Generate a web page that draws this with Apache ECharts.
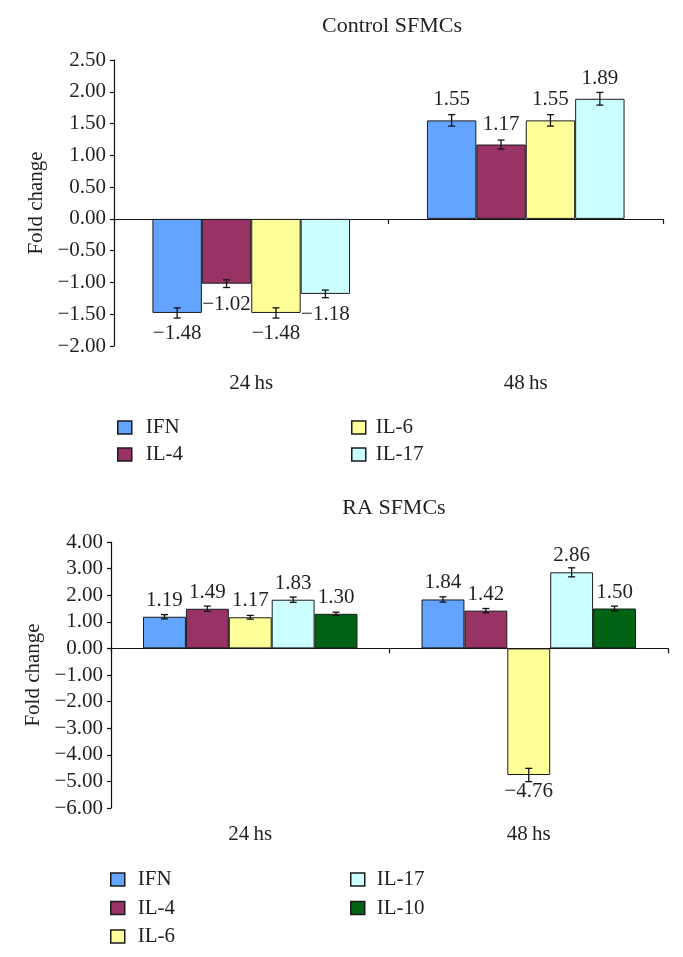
<!DOCTYPE html>
<html>
<head>
<meta charset="utf-8">
<script src="https://cdn.jsdelivr.net/npm/echarts@6/dist/echarts.min.js"></script>
<style>html,body{margin:0;padding:0;background:#fff}#c{width:683px;height:957px}</style>
</head>
<body>
<div id="c"></div>
<script>
// ---- data ----
const categories = ['24\u2009hs', '48\u2009hs'];
const ctrlTitle = 'Control SFMCs';
const raTitle = 'RA SFMCs';
const yName = 'Fold change';
const ctrlSeriesNames = ['IFN', 'IL-4', 'IL-6', 'IL-17'];
const ctrlIFN = [-1.48, 1.55];
const ctrlIL4 = [-1.02, 1.17];
const ctrlIL6 = [-1.48, 1.55];
const ctrlIL17 = [-1.18, 1.89];
const ctrlErrIFN = [0.08, 0.09];
const ctrlErrIL4 = [0.06, 0.07];
const ctrlErrIL6 = [0.08, 0.09];
const ctrlErrIL17 = [0.06, 0.10];
const raSeriesNames = ['IFN', 'IL-4', 'IL-6', 'IL-17', 'IL-10'];
const raIFN = [1.19, 1.84];
const raIL4 = [1.49, 1.42];
const raIL6 = [1.17, -4.76];
const raIL17 = [1.83, 2.86];
const raIL10 = [1.30, 1.50];
const raErrIFN = [0.08, 0.10];
const raErrIL4 = [0.10, 0.08];
const raErrIL6 = [0.07, 0.25];
const raErrIL17 = [0.10, 0.17];
const raErrIL10 = [0.06, 0.09];
const ctrlTicks = {min: -2, max: 2.5, interval: 0.5};
const raTicks = {min: -6, max: 4, interval: 1};

// ---- style ----
const FONT = 'Liberation Serif';
const TXT = '#231f20';
const colors = {'IFN': '#62a4ff', 'IL-4': '#993366', 'IL-6': '#ffff99', 'IL-17': '#ccffff', 'IL-10': '#006414'};
const fmt = v => (v < 0 ? '\u2212' : '') + Math.abs(v).toFixed(2);

const ctrlVals = [ctrlIFN, ctrlIL4, ctrlIL6, ctrlIL17];
const ctrlErrs = [ctrlErrIFN, ctrlErrIL4, ctrlErrIL6, ctrlErrIL17];
const raVals = [raIFN, raIL4, raIL6, raIL17, raIL10];
const raErrs = [raErrIFN, raErrIL4, raErrIL6, raErrIL17, raErrIL10];

const CTRL_GAP = 0.28, RA_GAP = 0.23;

function barSeries(names, vals, gridIdx, gap, dist) {
  return names.map((n, i) => ({
    type: 'bar', name: n, xAxisIndex: gridIdx * 2, yAxisIndex: gridIdx,
    barGap: '0%', barCategoryGap: (gap * 100) + '%',
    itemStyle: {color: colors[n], borderColor: '#1a1a1a', borderWidth: 1},
    label: {show: true, fontFamily: FONT, fontSize: 21, color: TXT, distance: dist,
            formatter: p => fmt(p.value)},
    emphasis: {disabled: true},
    data: vals[i].map(v => ({value: v, label: {position: v < 0 ? 'bottom' : 'top'}}))
  }));
}

function errSeries(vals, errs, gridIdx, gap) {
  const n = vals.length;
  const data = [];
  vals.forEach((arr, si) => arr.forEach((v, ci) => data.push([ci, v, errs[si][ci], si])));
  return {
    type: 'custom', xAxisIndex: gridIdx * 2, yAxisIndex: gridIdx, z: 5, silent: true,
    data: data,
    renderItem: function (params, api) {
      const ci = api.value(0), v = api.value(1), e = api.value(2), si = api.value(3);
      const band = api.size([1, 0])[0];
      const total = band * (1 - gap);
      const bw = total / n;
      const c = api.coord([ci, v]);
      const x = c[0] - total / 2 + (si + 0.5) * bw;
      const y1 = api.coord([ci, v + e])[1];
      const y2 = api.coord([ci, v - e])[1];
      const hw = 3.5;
      const st = {stroke: '#111', lineWidth: 1.3};
      return {type: 'group', children: [
        {type: 'line', shape: {x1: x, y1: y1, x2: x, y2: y2}, style: st},
        {type: 'line', shape: {x1: x - hw, y1: y1, x2: x + hw, y2: y1}, style: st},
        {type: 'line', shape: {x1: x - hw, y1: y2, x2: x + hw, y2: y2}, style: st}
      ]};
    }
  };
}

function xAxes(gridIdx, labelMargin) {
  return [
    {type: 'category', gridIndex: gridIdx, data: categories, position: 'bottom',
     axisLine: {show: false, onZero: false}, axisTick: {show: false},
     axisLabel: {fontFamily: FONT, fontSize: 21, color: TXT, margin: labelMargin}},
    {type: 'category', gridIndex: gridIdx, data: categories, position: 'bottom',
     axisLine: {show: true, onZero: true, lineStyle: {color: '#111', width: 1.2}},
     axisTick: {show: true, length: 5, lineStyle: {color: '#111', width: 1.2}},
     axisLabel: {show: false}}
  ];
}

function yAxis(gridIdx, t) {
  return {type: 'value', gridIndex: gridIdx, min: t.min, max: t.max, interval: t.interval,
    name: yName, nameLocation: 'middle', nameGap: 66, nameRotate: 90,
    nameTextStyle: {fontFamily: FONT, fontSize: 21, color: TXT},
    axisLine: {show: true, lineStyle: {color: '#111', width: 1.2}},
    axisTick: {show: true, length: 4, lineStyle: {color: '#111', width: 1.2}},
    splitLine: {show: false},
    axisLabel: {fontFamily: FONT, fontSize: 21, color: TXT, margin: 8, formatter: v => fmt(v)}};
}

function legend(names, left, top, gap, textPad) {
  return {data: names, left: left, top: top, orient: 'vertical', padding: 0,
    icon: 'rect', itemWidth: 14, itemHeight: 13, itemGap: gap, selectedMode: false,
    itemStyle: {borderColor: '#1a1a1a', borderWidth: 1.5},
    textStyle: {fontFamily: FONT, fontSize: 21, color: TXT, lineHeight: 21, padding: [0, 0, 0, textPad]}};
}

const chart = echarts.init(document.getElementById('c'), null, {renderer: 'canvas'});
chart.setOption({
  animation: false,
  backgroundColor: '#fff',
  title: [
    {text: ctrlTitle, left: 392, top: 15, textAlign: 'center', padding: 0,
     textStyle: {fontFamily: FONT, fontSize: 22, fontWeight: 'normal', color: TXT}},
    {text: raTitle, left: 394, top: 497, textAlign: 'center', padding: 0,
     textStyle: {fontFamily: FONT, fontSize: 22, fontWeight: 'normal', color: TXT}}
  ],
  grid: [
    {left: 114, width: 549, top: 60, height: 286, containLabel: false},
    {left: 111, width: 557, top: 542, height: 266, containLabel: false}
  ],
  legend: [
    legend(['IFN', 'IL-4'], 117, 417, 6, 9),
    legend(['IL-6', 'IL-17'], 351, 417, 6, 5),
    legend(['IFN', 'IL-4', 'IL-6'], 110, 869, 7.5, 8),
    legend(['IL-17', 'IL-10'], 350, 869, 7.5, 7)
  ],
  xAxis: [].concat(xAxes(0, 27), xAxes(1, 16)),
  yAxis: [yAxis(0, ctrlTicks), yAxis(1, raTicks)],
  series: [].concat(
    barSeries(ctrlSeriesNames, ctrlVals, 0, CTRL_GAP, 10),
    [errSeries(ctrlVals, ctrlErrs, 0, CTRL_GAP)],
    barSeries(raSeriesNames, raVals, 1, RA_GAP, 6),
    [errSeries(raVals, raErrs, 1, RA_GAP)]
  )
});
</script>
</body>
</html>
